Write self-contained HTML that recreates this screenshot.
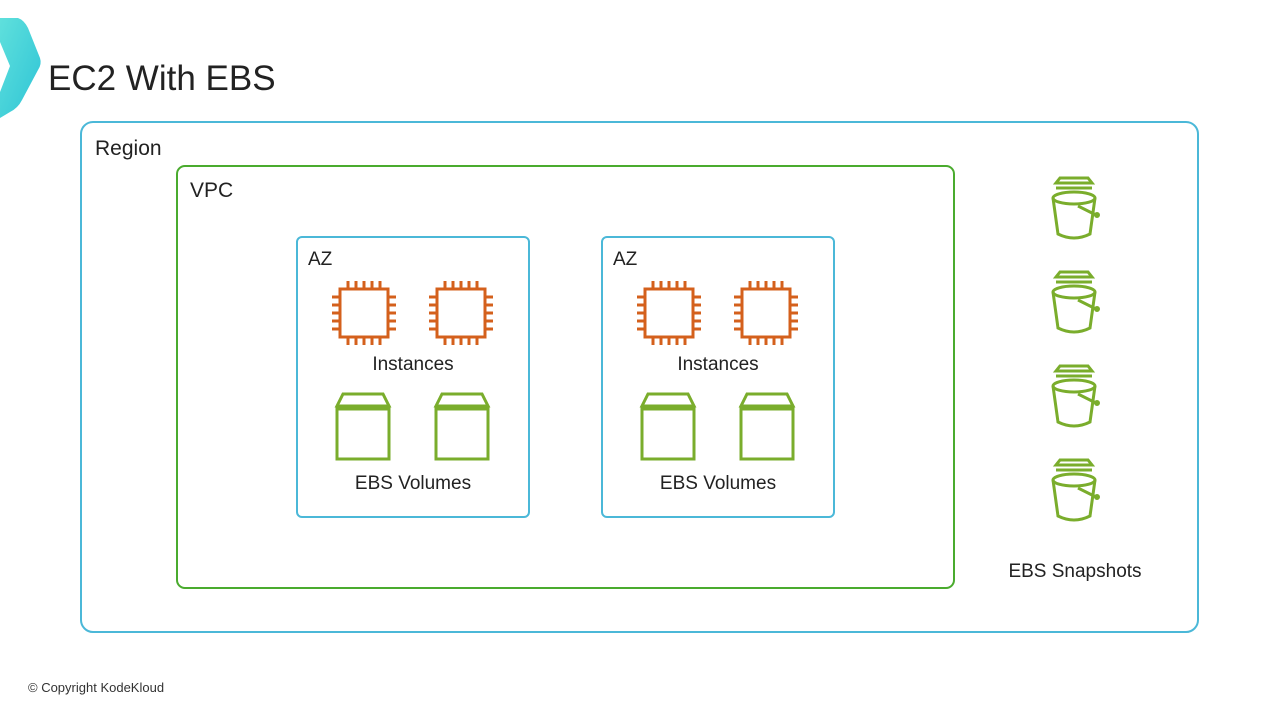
<!DOCTYPE html>
<html><head><meta charset="utf-8"><style>
body{margin:0;background:#fff;}
svg{display:block;font-family:"Liberation Sans","DejaVu Sans",sans-serif;}
</style></head><body>
<svg width="1280" height="720" viewBox="0 0 1280 720" xmlns="http://www.w3.org/2000/svg">
<defs>
<linearGradient id="g" x1="0" y1="0" x2="1" y2="1"><stop offset="0" stop-color="#5fe0dc"/><stop offset="1" stop-color="#2ec4d6"/></linearGradient>
<g id="chip" fill="none" stroke="#d4601c" stroke-width="3">
<rect x="-24" y="-24" width="48" height="48"/>
<path d="M-16,-24v-8M-8,-24v-8M0,-24v-8M8,-24v-8M16,-24v-8M-16,24v8M-8,24v8M0,24v8M8,24v8M16,24v8M-24,-16h-8M-24,-8h-8M-24,0h-8M-24,8h-8M-24,16h-8M24,-16h8M24,-8h8M24,0h8M24,8h8M24,16h8"/>
</g>
<g id="vol" fill="none" stroke="#7aad2c" stroke-width="3">
<path d="M0,13 L6,1 H46 L52,13 Z"/>
<rect x="0" y="16" width="52" height="50"/>
</g>
<g id="bkt" fill="none" stroke="#7aad2c" stroke-width="3">
<path d="M8,2 H36 L40,7 H4 Z"/>
<path d="M4,12 H40"/>
<ellipse cx="22" cy="22" rx="21" ry="6"/>
<path d="M1,22 L6,58 Q22,66 38,58 L43,22"/>
<path d="M26,30 L44,39"/>
<circle cx="45" cy="39" r="1.5" fill="#7aad2c"/>
</g>
</defs>
<path d="M0,18 L18,18 Q24,20 28,28 L40,58 Q42,64 38,70 L22,100 Q18,108 10,112 L0,118 L0,92 L10,66 L0,42 Z" fill="url(#g)"/>
<text x="48" y="90" font-size="35" fill="#222">EC2 With EBS</text>
<rect x="81" y="122" width="1117" height="510" rx="12" fill="none" stroke="#4bb8d8" stroke-width="2"/>
<text x="95" y="155" font-size="21" fill="#222">Region</text>
<rect x="177" y="166" width="777" height="422" rx="8" fill="none" stroke="#4aab2e" stroke-width="2"/>
<text x="190" y="197" font-size="21" fill="#222">VPC</text>
<rect x="297" y="237" width="232" height="280" rx="5" fill="none" stroke="#4bb8d8" stroke-width="2"/>
<rect x="602" y="237" width="232" height="280" rx="5" fill="none" stroke="#4bb8d8" stroke-width="2"/>
<text x="308" y="265" font-size="19" fill="#222">AZ</text>
<text x="613" y="265" font-size="19" fill="#222">AZ</text>
<use href="#chip" x="364" y="313"/><use href="#chip" x="461" y="313"/>
<use href="#chip" x="669" y="313"/><use href="#chip" x="766" y="313"/>
<text x="413" y="370" font-size="19" fill="#222" text-anchor="middle">Instances</text>
<text x="718" y="370" font-size="19" fill="#222" text-anchor="middle">Instances</text>
<use href="#vol" x="337" y="393"/><use href="#vol" x="436" y="393"/>
<use href="#vol" x="642" y="393"/><use href="#vol" x="741" y="393"/>
<text x="413" y="489" font-size="19" fill="#222" text-anchor="middle">EBS Volumes</text>
<text x="718" y="489" font-size="19" fill="#222" text-anchor="middle">EBS Volumes</text>
<use href="#bkt" x="1052" y="176"/><use href="#bkt" x="1052" y="270"/>
<use href="#bkt" x="1052" y="364"/><use href="#bkt" x="1052" y="458"/>
<text x="1075" y="577" font-size="19" fill="#222" text-anchor="middle">EBS Snapshots</text>
<text x="28" y="692" font-size="13" fill="#333">© Copyright KodeKloud</text>
</svg>
</body></html>
